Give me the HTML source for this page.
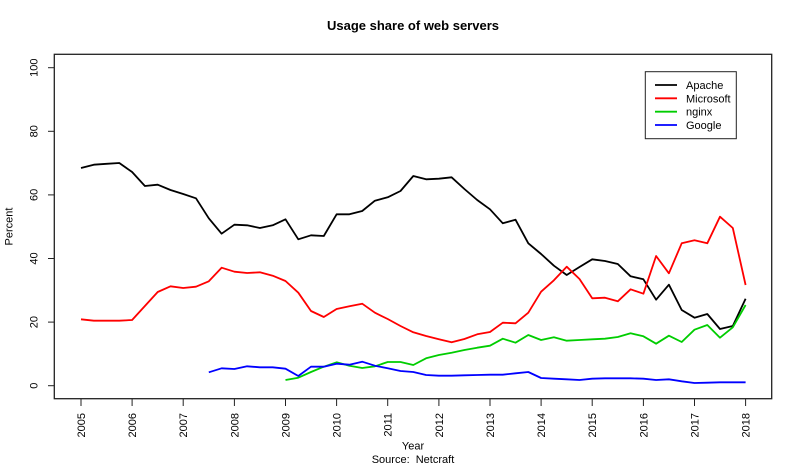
<!DOCTYPE html>
<html>
<head>
<meta charset="utf-8">
<style>
  html, body { margin: 0; padding: 0; background: #fff; }
  svg { display: block; }
  text { font-family: "Liberation Sans", Arial, sans-serif; fill: #000; }
</style>
</head>
<body>
<svg width="800" height="467" viewBox="0 0 800 467" xmlns="http://www.w3.org/2000/svg">
  <rect x="0" y="0" width="800" height="467" fill="#fff"/>

  <!-- Title -->
  <text x="413" y="30" font-size="13" font-weight="bold" text-anchor="middle">Usage share of web servers</text>

  <!-- Plot box -->
  <rect x="54.3" y="54.3" width="717.4" height="344.4" fill="none" stroke="#222" stroke-width="1.3"/>

  <!-- Y ticks -->
  <g stroke="#222" stroke-width="1">
    <line x1="48" y1="385.7" x2="54.3" y2="385.7"/>
    <line x1="48" y1="322.1" x2="54.3" y2="322.1"/>
    <line x1="48" y1="258.5" x2="54.3" y2="258.5"/>
    <line x1="48" y1="194.9" x2="54.3" y2="194.9"/>
    <line x1="48" y1="131.3" x2="54.3" y2="131.3"/>
    <line x1="48" y1="67.7" x2="54.3" y2="67.7"/>
  </g>
  <g font-size="11" text-anchor="middle">
    <text transform="translate(37.6,385.7) rotate(-90)">0</text>
    <text transform="translate(37.6,322.1) rotate(-90)">20</text>
    <text transform="translate(37.6,258.5) rotate(-90)">40</text>
    <text transform="translate(37.6,194.9) rotate(-90)">60</text>
    <text transform="translate(37.6,131.3) rotate(-90)">80</text>
    <text transform="translate(37.6,67.7) rotate(-90)">100</text>
  </g>
  <text transform="translate(12.5,226.5) rotate(-90)" font-size="11" text-anchor="middle">Percent</text>

  <!-- X ticks -->
  <g stroke="#222" stroke-width="1">
    <line x1="81.0" y1="398.7" x2="81.0" y2="406"/>
    <line x1="132.1" y1="398.7" x2="132.1" y2="406"/>
    <line x1="183.2" y1="398.7" x2="183.2" y2="406"/>
    <line x1="234.4" y1="398.7" x2="234.4" y2="406"/>
    <line x1="285.5" y1="398.7" x2="285.5" y2="406"/>
    <line x1="336.6" y1="398.7" x2="336.6" y2="406"/>
    <line x1="387.7" y1="398.7" x2="387.7" y2="406"/>
    <line x1="438.9" y1="398.7" x2="438.9" y2="406"/>
    <line x1="490.0" y1="398.7" x2="490.0" y2="406"/>
    <line x1="541.1" y1="398.7" x2="541.1" y2="406"/>
    <line x1="592.2" y1="398.7" x2="592.2" y2="406"/>
    <line x1="643.4" y1="398.7" x2="643.4" y2="406"/>
    <line x1="694.5" y1="398.7" x2="694.5" y2="406"/>
    <line x1="745.6" y1="398.7" x2="745.6" y2="406"/>
  </g>
  <g font-size="11" text-anchor="end">
    <text transform="translate(85.0,413) rotate(-90)">2005</text>
    <text transform="translate(136.1,413) rotate(-90)">2006</text>
    <text transform="translate(187.2,413) rotate(-90)">2007</text>
    <text transform="translate(238.4,413) rotate(-90)">2008</text>
    <text transform="translate(289.5,413) rotate(-90)">2009</text>
    <text transform="translate(340.6,413) rotate(-90)">2010</text>
    <text transform="translate(391.7,413) rotate(-90)">2011</text>
    <text transform="translate(442.9,413) rotate(-90)">2012</text>
    <text transform="translate(494.0,413) rotate(-90)">2013</text>
    <text transform="translate(545.1,413) rotate(-90)">2014</text>
    <text transform="translate(596.2,413) rotate(-90)">2015</text>
    <text transform="translate(647.4,413) rotate(-90)">2016</text>
    <text transform="translate(698.5,413) rotate(-90)">2017</text>
    <text transform="translate(749.6,413) rotate(-90)">2018</text>
  </g>

  <text x="413" y="449.5" font-size="11" text-anchor="middle">Year</text>
  <text x="413" y="463" font-size="11" text-anchor="middle" xml:space="preserve">Source:  Netcraft</text>

  <!-- Series -->
  <g fill="none" stroke-width="1.8" stroke-linejoin="round" stroke-linecap="butt">
    <!-- Apache -->
    <polyline stroke="#000000" points="81.0,168 93.8,164.7 106.6,163.8 119.3,163 132.1,172 144.9,186 157.7,184.7 170.5,190 183.2,194 196.0,198.3 208.8,218.3 221.6,233.7 234.4,224.7 247.1,225.3 259.9,228 272.7,225.3 285.5,219.3 298.3,239.3 311.0,235.3 323.8,236 336.6,214.3 349.4,214.3 362.2,211 374.9,200.7 387.7,197.3 400.5,191 413.3,176 426.1,179.3 438.9,178.7 451.6,177.3 464.4,189 477.2,200 490.0,209.3 502.8,223.3 515.5,219.7 528.3,243.3 541.1,254 553.9,265.7 566.7,275 579.5,267 592.2,259.3 605.0,261 617.8,264 630.6,276.3 643.4,279.3 656.1,299.7 668.9,284.7 681.7,310 694.5,317.7 707.3,314 720.0,329 732.8,326 745.6,298.7"/>
    <!-- Microsoft -->
    <polyline stroke="#FF0000" points="81.0,319.3 93.8,320.7 106.6,320.7 119.3,320.7 132.1,320 144.9,306 157.7,292 170.5,286.3 183.2,288 196.0,286.7 208.8,281.3 221.6,267.7 234.4,271.7 247.1,273 259.9,272.3 272.7,275.7 285.5,281 298.3,292.7 311.0,311 323.8,317 336.6,309 349.4,306.3 362.2,303.7 374.9,312.7 387.7,319 400.5,326 413.3,332.3 426.1,336 438.9,339.3 451.6,342.3 464.4,339 477.2,334.3 490.0,332 502.8,322.7 515.5,323.3 528.3,312.7 541.1,291.7 553.9,280.3 566.7,266.7 579.5,279 592.2,298.3 605.0,297.7 617.8,301.3 630.6,289.3 643.4,293.7 656.1,256 668.9,273.3 681.7,243.3 694.5,240.3 707.3,243.3 720.0,216.7 732.8,228 745.6,285"/>
    <!-- nginx -->
    <polyline stroke="#00CD00" points="285.5,380 298.3,377.7 311.0,372 323.8,366.7 336.6,362.3 349.4,365.7 362.2,368 374.9,366.3 387.7,362 400.5,362 413.3,365 426.1,358.3 438.9,355 451.6,352.7 464.4,350 477.2,347.7 490.0,345.7 502.8,338.7 515.5,342.7 528.3,335 541.1,340 553.9,337.3 566.7,340.7 579.5,340 592.2,339.3 605.0,338.7 617.8,337 630.6,333.3 643.4,336.3 656.1,343.7 668.9,335.7 681.7,342 694.5,329.7 707.3,325 720.0,337.7 732.8,327.3 745.6,305"/>
    <!-- Google -->
    <polyline stroke="#0000FF" points="208.8,372.3 221.6,368.3 234.4,369 247.1,366.3 259.9,367.3 272.7,367.3 285.5,368.7 298.3,376 311.0,366.7 323.8,366.7 336.6,363.7 349.4,364.7 362.2,361.7 374.9,365.7 387.7,368.3 400.5,371 413.3,372 426.1,375 438.9,375.7 451.6,375.7 464.4,375.3 477.2,375 490.0,374.7 502.8,374.7 515.5,373.3 528.3,372 541.1,378 553.9,378.7 566.7,379.3 579.5,380 592.2,378.7 605.0,378.3 617.8,378.3 630.6,378.3 643.4,378.7 656.1,380 668.9,379.3 681.7,381.3 694.5,383 707.3,382.7 720.0,382.3 732.8,382.3 745.6,382.3"/>
  </g>

  <!-- Legend -->
  <rect x="645.3" y="71.7" width="91" height="67" fill="#fff" stroke="#222" stroke-width="1"/>
  <g stroke-width="1.8">
    <line x1="655" y1="85" x2="677" y2="85" stroke="#000000"/>
    <line x1="655" y1="98.3" x2="677" y2="98.3" stroke="#FF0000"/>
    <line x1="655" y1="111.7" x2="677" y2="111.7" stroke="#00CD00"/>
    <line x1="655" y1="125" x2="677" y2="125" stroke="#0000FF"/>
  </g>
  <g font-size="11">
    <text x="686" y="89">Apache</text>
    <text x="686" y="102.3">Microsoft</text>
    <text x="686" y="115.7">nginx</text>
    <text x="686" y="129">Google</text>
  </g>
</svg>
</body>
</html>
